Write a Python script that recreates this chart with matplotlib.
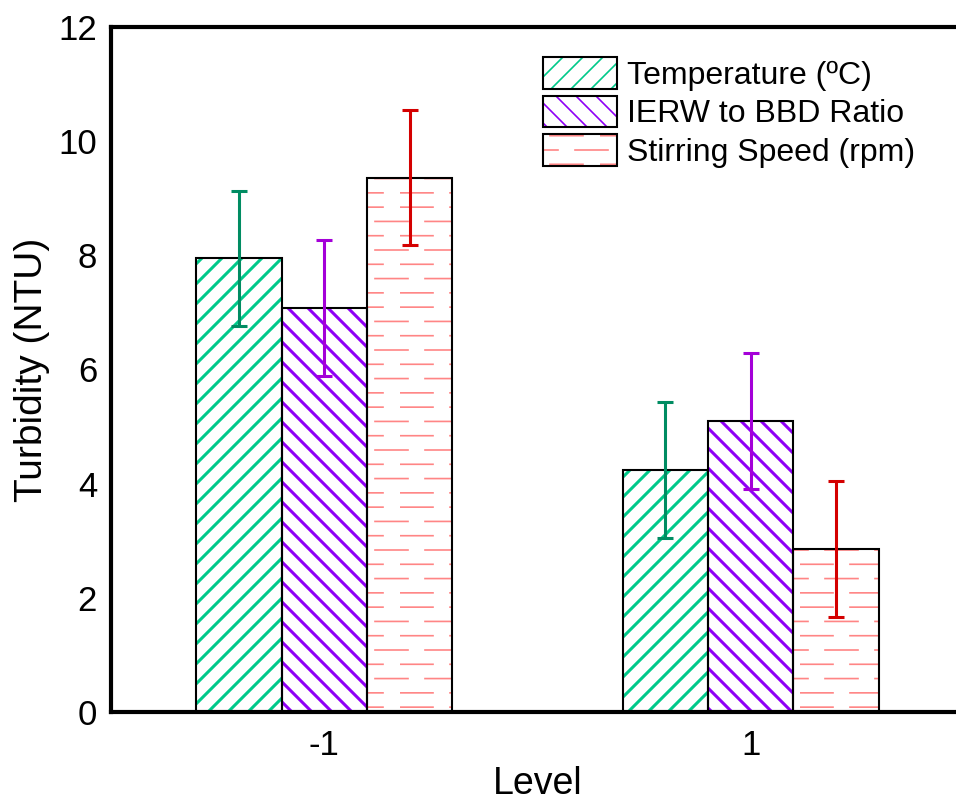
import numpy as np
import matplotlib
matplotlib.use("Agg")
import matplotlib.pyplot as plt
from matplotlib import hatch as mhatch
from matplotlib.path import Path
from matplotlib.patches import Patch
from matplotlib.legend_handler import HandlerTuple

# ---------------- data ----------------
levels = ["-1", "1"]
series = ["Temperature (ºC)", "IERW to BBD Ratio", "Stirring Speed (rpm)"]
temperature = [7.95, 4.24]
ratio = [7.08, 5.10]
stirring = [9.36, 2.86]
temperature_err = [1.18, 1.19]
ratio_err = [1.19, 1.19]
stirring_err = [1.18, 1.19]

# ---------------- custom hatches ----------------
class DashedHorizontalHatch(mhatch.HatchPatternBase):
    def __init__(self, hatch, density):
        self.segs = []
        if '~' in hatch:
            nrows = 7
            period = 0.5
            dash = 0.33
            offsets = [0.0, 0.25]
            for i in range(nrows):
                y = (i + 0.5) / nrows
                o = offsets[i % 2]
                s = o - period
                while s < 1.0:
                    a, b = s, s + dash
                    a2, b2 = max(a, 0.0), min(b, 1.0)
                    if b2 > a2:
                        self.segs.append((a2, b2, y))
                    s += period
        self.num_vertices = 2 * len(self.segs)

    def set_vertices_and_codes(self, vertices, codes):
        for k, (a, b, y) in enumerate(self.segs):
            vertices[2 * k] = (a, y)
            vertices[2 * k + 1] = (b, y)
            codes[2 * k] = Path.MOVETO
            codes[2 * k + 1] = Path.LINETO


class WideNorthEast(mhatch.NorthEastHatch):
    def __init__(self, hatch, density):
        self.num_lines = 10 * hatch.count('p')
        self.num_vertices = (self.num_lines + 1) * 2 if self.num_lines else 0


class WideSouthEast(mhatch.SouthEastHatch):
    def __init__(self, hatch, density):
        self.num_lines = 10 * hatch.count('q')
        self.num_vertices = (self.num_lines + 1) * 2 if self.num_lines else 0


for cls in (DashedHorizontalHatch, WideNorthEast, WideSouthEast):
    if cls not in mhatch._hatch_types:
        mhatch._hatch_types.append(cls)

# ---------------- style ----------------
plt.rcParams['font.family'] = ['Liberation Sans', 'DejaVu Sans']

fig = plt.figure(figsize=(9.56, 8.05), dpi=100)
ax = fig.add_axes([0.1161, 0.1155, 0.8923, 0.851])

x = np.arange(len(levels))
width = 0.2
offsets = [-width, 0, width]
vals = [temperature, ratio, stirring]
errs = [temperature_err, ratio_err, stirring_err]
hatches = ['p', 'q', '~']
hatch_cols = ['#00C98A', '#8F00F5', '#FF8585']
hatch_lws = [2.2, 2.2, 1.2]
err_cols = ['#008C62', '#A400D8', '#D40000']

handles = []
for v, e, off, h, hc, hlw, ec, lab in zip(vals, errs, offsets, hatches,
                                          hatch_cols, hatch_lws, err_cols, series):
    plt.rcParams['hatch.linewidth'] = hlw
    ax.bar(x + off, v, width, color='white', edgecolor=hc, hatch=h,
           linewidth=0, zorder=2)
    ax.bar(x + off, v, width, color='none', edgecolor='black',
           linewidth=1.5, zorder=3)
    ax.errorbar(x + off, v, yerr=e, fmt='none', ecolor=ec, elinewidth=2.2,
                capsize=6, capthick=2.2, zorder=4)
    p1 = Patch(facecolor='white', edgecolor=hc, hatch=h, linewidth=0)
    p2 = Patch(facecolor='none', edgecolor='black', linewidth=1.5)
    handles.append((p1, p2))

ax.set_xlim(-0.5, 1.5)
ax.set_ylim(0, 12)
ax.set_xticks(x)
ax.set_xticklabels(levels)
ax.set_yticks(np.arange(0, 13, 2))
ax.tick_params(axis='both', length=0, labelsize=25)
ax.tick_params(axis='y', pad=10)
ax.tick_params(axis='x', pad=12)
for s in ax.spines.values():
    s.set_linewidth(3)

ax.set_ylabel('Turbidity (NTU)', fontsize=28, labelpad=6)
ax.set_xlabel('Level', fontsize=27, labelpad=3)

leg = ax.legend(handles, series, handler_map={tuple: HandlerTuple(ndivide=1, pad=0)},
                loc='upper left', bbox_to_anchor=(0.507, 0.956), frameon=False,
                fontsize=23, handlelength=2.3, handleheight=1.15,
                labelspacing=0.15, handletextpad=0.33, borderaxespad=0,
                borderpad=0)

fig.savefig('out.png', dpi=100)
